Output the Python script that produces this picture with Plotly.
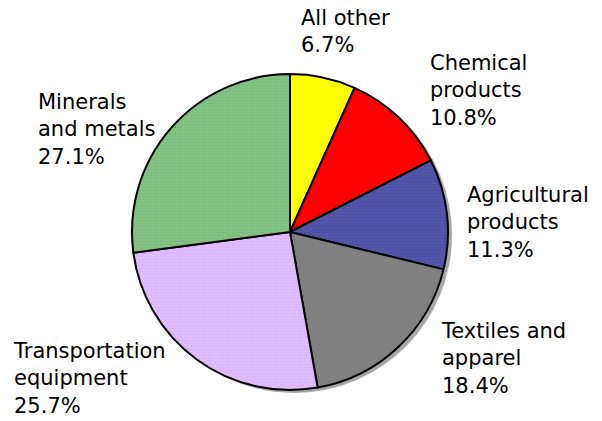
import plotly.graph_objects as go

# share of total, clockwise from 12 o'clock
categories = ['All other', 'Chemical products', 'Agricultural products',
              'Textiles and apparel', 'Transportation equipment', 'Minerals and metals']
shares = [6.7, 10.8, 11.3, 18.4, 25.7, 27.1]
label_text = ['All other', 'Chemical<br>products', 'Agricultural<br>products',
              'Textiles and<br>apparel', 'Transportation<br>equipment', 'Minerals<br>and metals']

colors = ['#FFFF00', '#FF0000', '#5555AA', '#808080', '#E0BFFF', '#85C485']
dot_colors = ['#FFFF00', '#FF0000', '#44449A', '#808080', '#CDA6F2', '#6AAA6A']
patterns = ['', '', '.', '', '.', '.']

W, H = 602, 421
cx, cy, r = 290, 232, 158
# label anchor points in pixels (left edge, vertical middle of the text block)
label_pos = [(299, 31), (428, 90), (465, 222), (439, 358), (11, 378), (36, 129)]


def px(x, y):
    return x / W, 1 - y / H


fig = go.Figure()

# drop shadow
fig.add_trace(go.Pie(
    values=[1],
    marker=dict(colors=['#A8A8A8'], line=dict(width=0)),
    textinfo='none', hoverinfo='skip', showlegend=False,
    domain=dict(x=[(cx - r + 4) / W, (cx + r + 4) / W],
                y=[1 - (cy + r + 3) / H, 1 - (cy - r + 3) / H]),
))

fig.add_trace(go.Pie(
    labels=categories,
    values=shares,
    sort=False,
    direction='clockwise',
    rotation=0,
    marker=dict(
        colors=colors,
        line=dict(color='black', width=2),
        pattern=dict(shape=patterns, fgcolor=dot_colors, bgcolor=colors,
                     fillmode='overlay', size=3, solidity=0.4),
    ),
    textinfo='none',
    showlegend=False,
    domain=dict(x=[(cx - r) / W, (cx + r) / W],
                y=[1 - (cy + r) / H, 1 - (cy - r) / H]),
))

for name, val, (lx, ly) in zip(label_text, shares, label_pos):
    ax, ay = px(lx, ly)
    fig.add_annotation(
        x=ax, y=ay, xref='paper', yref='paper',
        text=f'{name}<br>{val:.1f}%',
        showarrow=False, xanchor='left', yanchor='middle', align='left',
        font=dict(family='DejaVu Sans', size=21, color='black'),
    )

fig.update_layout(
    width=W, height=H,
    margin=dict(l=0, r=0, t=0, b=0),
    paper_bgcolor='white',
    plot_bgcolor='white',
)

fig.write_html('out.html', config={'displayModeBar': False},
               post_script="document.body.style.margin='0';")
